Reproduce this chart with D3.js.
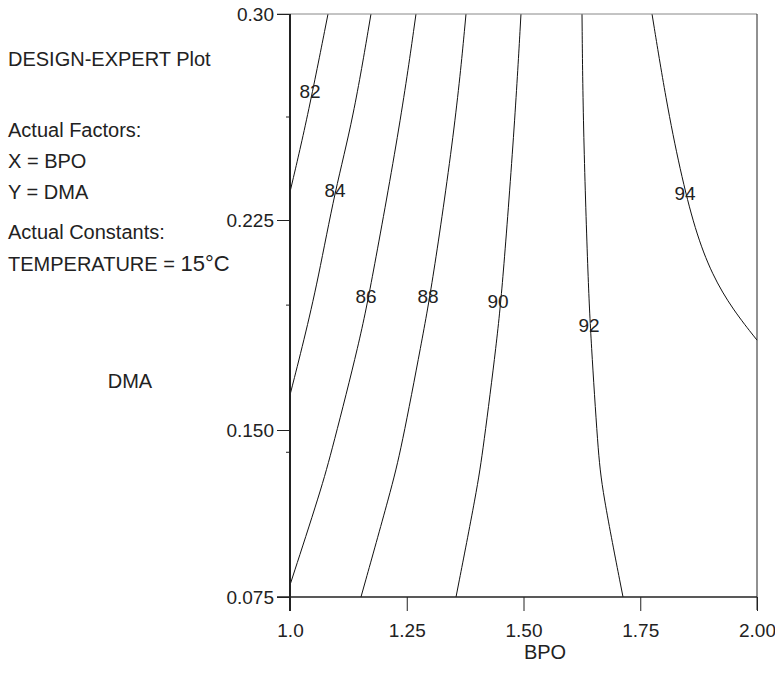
<!DOCTYPE html>
<html>
<head>
<meta charset="utf-8">
<script src="https://cdn.jsdelivr.net/npm/d3@7"></script>
<style>
  body { margin: 0; background: #fff; }
  svg { display: block; font-family: "Liberation Sans", Arial, sans-serif; }
</style>
</head>
<body>
<svg id="chart" width="775" height="685"></svg>
<script>
// axis ticks
const xTicks = [1.0, 1.25, 1.5, 1.75, 2.0];
const xTickLabels = ["1.0", "1.25", "1.50", "1.75", "2.00"];
const yTicks = [0.075, 0.15, 0.225, 0.30];
const yTickLabels = ["0.075", "0.150", "0.225", "0.30"];
const yMinorTicks = [0.140, 0.1946, 0.2625];

// contour lines, points as [BPO, DMA]
const c82 = [[1.0814, 0.30], [1.0364, 0.2614], [1.0, 0.2352]];
const c84 = [[1.1734, 0.30], [1.1349, 0.2614], [1.0964, 0.2359], [1.06, 0.2036], [1.03, 0.1821], [1.0, 0.1625]];
const c86 = [[1.2698, 0.30], [1.2377, 0.2614], [1.1756, 0.2036], [1.1499, 0.1821], [1.0899, 0.141], [1.0664, 0.1231], [1.0, 0.0804]];
const c88 = [[1.3769, 0.30], [1.3555, 0.2614], [1.3062, 0.2036], [1.2827, 0.1821], [1.2377, 0.141], [1.2163, 0.1231], [1.152, 0.075]];
const c90 = [[1.4946, 0.30], [1.4818, 0.2614], [1.4561, 0.2036], [1.4433, 0.1821], [1.4133, 0.141], [1.4004, 0.1231], [1.3555, 0.075]];
const c92 = [[1.6253, 0.30], [1.6274, 0.2614], [1.6381, 0.2036], [1.6445, 0.1821], [1.6595, 0.141], [1.6681, 0.1231], [1.7131, 0.075]];
const c94 = [[1.7752, 0.30], [1.8051, 0.2687], [1.8351, 0.2432], [1.8672, 0.2214], [1.9036, 0.2054], [1.9486, 0.1929], [2.0, 0.1821]];
const contours = [c82, c84, c86, c88, c90, c92, c94];

const labelValues = ["82", "84", "86", "88", "90", "92", "94"];
const labelX = [1.0428, 1.0964, 1.1627, 1.2955, 1.4454, 1.6403, 1.8458];
const labelY = [0.272, 0.2359, 0.1979, 0.1979, 0.1961, 0.1875, 0.2348];

const infoLines = ["DESIGN-EXPERT Plot", "Actual Factors:", "X = BPO", "Y = DMA", "Actual Constants:"];

const svg = d3.select("#chart");
const plotLeft = 290, plotRight = 757, plotTop = 14, plotBottom = 597;

const x = d3.scaleLinear().domain([1, 2]).range([plotLeft, plotRight]);
const y = d3.scaleLinear().domain(yTicks).range([597, 430, 220, 14]);

const ink = "#222";

// contours
const line = d3.line()
  .x(d => x(d[0]))
  .y(d => y(d[1]))
  .curve(d3.curveBasis);

svg.append("g")
  .selectAll("path")
  .data(contours)
  .join("path")
  .attr("d", line)
  .attr("fill", "none")
  .attr("stroke", "#111")
  .attr("stroke-width", 1);

// frame
svg.append("line").attr("x1", plotLeft - 13).attr("x2", plotRight).attr("y1", plotTop).attr("y2", plotTop)
  .attr("stroke", "#888").attr("stroke-width", 1);
svg.append("line").attr("x1", plotRight).attr("x2", plotRight).attr("y1", plotTop).attr("y2", plotBottom + 13)
  .attr("stroke", "#222").attr("stroke-width", 1);

// x axis
const xAxis = d3.axisBottom(x)
  .tickValues(xTicks)
  .tickSize(14)
  .tickFormat((d, i) => xTickLabels[i]);
const gx = svg.append("g").attr("transform", `translate(0,${plotBottom})`).call(xAxis);
gx.select(".domain").attr("stroke", ink).attr("stroke-width", 1.5).attr("d", `M${plotLeft - 13},0H${plotRight}`);
gx.selectAll(".tick line").attr("stroke", ink);
gx.selectAll(".tick text").attr("font-size", 19).attr("fill", ink).attr("dy", null).attr("y", 40);

// y axis
const yAxis = d3.axisLeft(y)
  .tickValues(yTicks)
  .tickSize(13)
  .tickFormat((d, i) => yTickLabels[i]);
const gy = svg.append("g").attr("transform", `translate(${plotLeft},0)`).call(yAxis);
gy.select(".domain").attr("stroke", ink).attr("stroke-width", 2).attr("d", `M0,${plotTop}V${plotBottom + 14}`);
gy.selectAll(".tick line").attr("stroke", ink);
gy.selectAll(".tick text").attr("font-size", 19).attr("fill", ink).attr("x", -16);

gy.selectAll(".minor")
  .data(yMinorTicks)
  .join("line")
  .attr("class", "minor")
  .attr("x1", -4).attr("x2", 0)
  .attr("y1", d => y(d)).attr("y2", d => y(d))
  .attr("stroke", ink);

// contour labels
svg.append("g")
  .selectAll("text")
  .data(labelValues)
  .join("text")
  .attr("x", (d, i) => x(labelX[i]))
  .attr("y", (d, i) => y(labelY[i]))
  .attr("dy", "0.35em")
  .attr("text-anchor", "middle")
  .attr("font-size", 19)
  .attr("fill", ink)
  .text(d => d);

// info text
const infoY = [66, 137, 168, 199, 239];
svg.append("g")
  .selectAll("text")
  .data(infoLines)
  .join("text")
  .attr("x", 8)
  .attr("y", (d, i) => infoY[i])
  .attr("font-size", 20)
  .attr("fill", ink)
  .text(d => d);

const temp = svg.append("text").attr("x", 8).attr("y", 271).attr("fill", ink);
temp.append("tspan").attr("font-size", 20).text("TEMPERATURE = ");
temp.append("tspan").attr("font-size", 22).text("15°C");

// axis titles
svg.append("text").attr("x", 130).attr("y", 388).attr("text-anchor", "middle")
  .attr("font-size", 20).attr("fill", ink).text("DMA");
svg.append("text").attr("x", 545).attr("y", 659).attr("text-anchor", "middle")
  .attr("font-size", 20).attr("fill", ink).text("BPO");
</script>
</body>
</html>
